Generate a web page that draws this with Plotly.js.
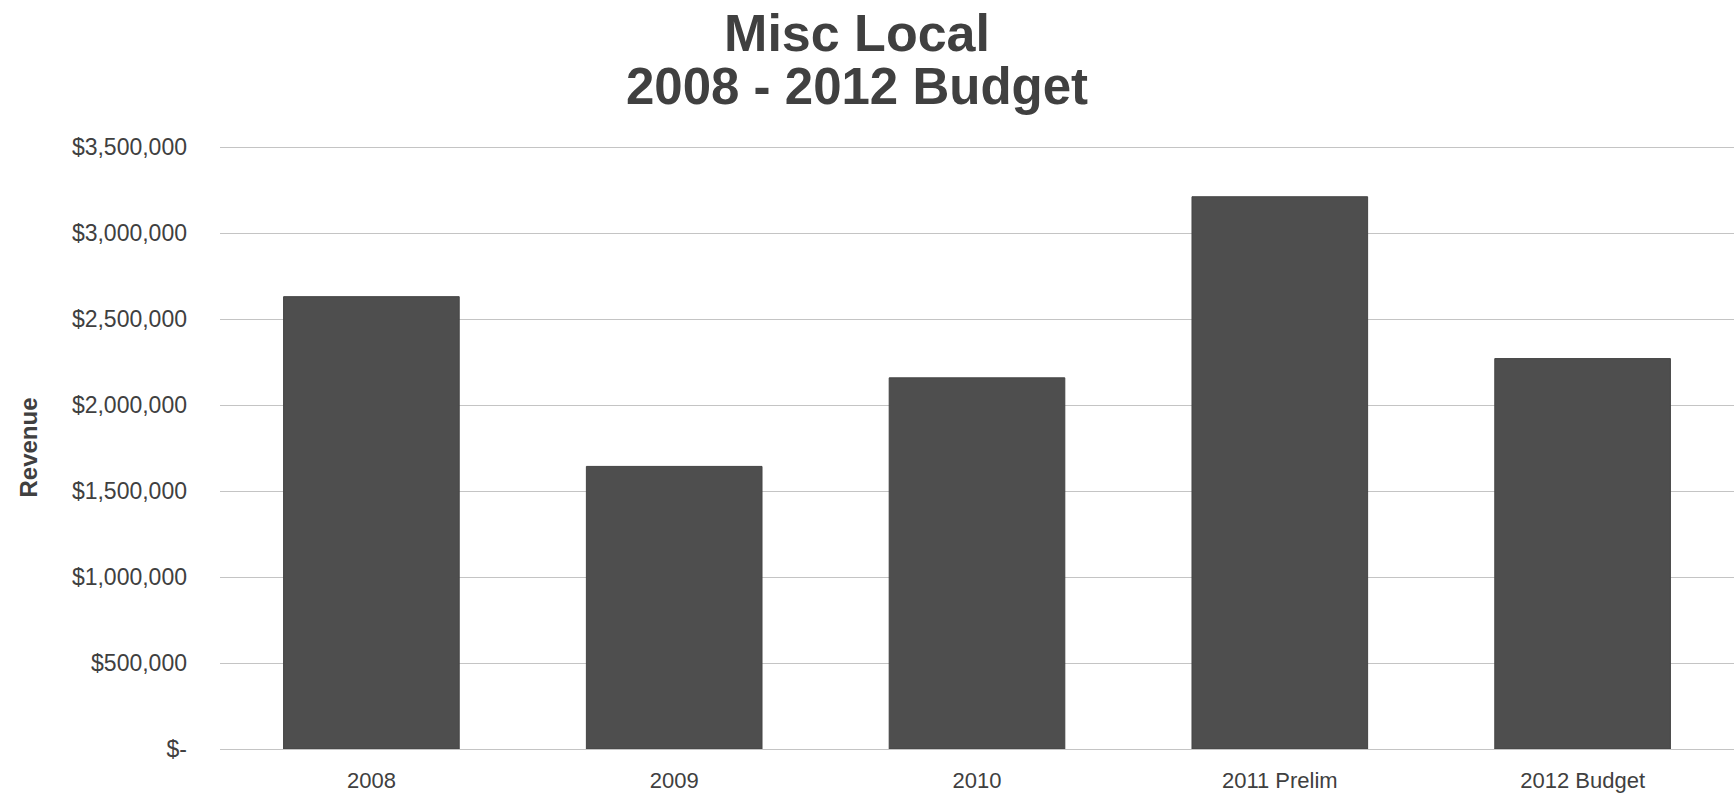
<!DOCTYPE html>
<html>
<head>
<meta charset="utf-8">
<script src="https://cdn.plot.ly/plotly-3.0.1.min.js"></script>
<style>
html,body{margin:0;padding:0;background:#fff;}
#chart{width:1734px;height:794px;}
</style>
</head>
<body>
<div id="chart"></div>
<script>
const categories = ["2008", "2009", "2010", "2011 Prelim", "2012 Budget"];
const revenue = [2630000, 1643000, 2158000, 3211000, 2270000];
const yTickVals = [0, 500000, 1000000, 1500000, 2000000, 2500000, 3000000, 3500000];
const yTickText = ["$-", "$500,000", "$1,000,000", "$1,500,000", "$2,000,000", "$2,500,000", "$3,000,000", "$3,500,000"];
const titleLine1 = "Misc Local";
const titleLine2 = "2008 - 2012 Budget";

const trace = {
  type: "bar",
  x: categories,
  y: revenue,
  marker: {color: "#4e4e4e", line: {color: "#444444", width: 1}},
  hoverinfo: "x+y"
};

const W = 1734, H = 794, T = 146, B = 45, L = 220;
const plotH = H - T - B;
const titleX = 857;

const layout = {
  width: W,
  height: H,
  paper_bgcolor: "#ffffff",
  plot_bgcolor: "#ffffff",
  margin: {l: L, r: 0, t: T, b: B},
  bargap: 0.42,
  showlegend: false,
  font: {family: "Liberation Sans, Arial, sans-serif", color: "#404040", size: 22},
  title: {
    text: "<b>" + titleLine1 + "</b>",
    font: {family: "Liberation Sans, Arial, sans-serif", size: 52, color: "#404040"},
    xref: "container", x: titleX / W, xanchor: "center",
    yref: "container", y: 1 - 33 / H, yanchor: "middle"
  },
  annotations: [{
    text: "<b>" + titleLine2 + "</b>",
    font: {family: "Liberation Sans, Arial, sans-serif", size: 51, color: "#404040"},
    xref: "paper", yref: "paper",
    x: (titleX - L) / (W - L), xanchor: "center",
    y: (H - B - 86) / plotH, yanchor: "middle",
    showarrow: false
  }],
  xaxis: {
    type: "category",
    showgrid: false,
    showline: true,
    linecolor: "#c4c4c4",
    linewidth: 1,
    ticks: "",
    ticklabelstandoff: 12,
    tickfont: {size: 22, color: "#404040"},
    zeroline: false
  },
  yaxis: {
    range: [0, 3506000],
    tickvals: yTickVals,
    ticktext: yTickText,
    showgrid: true,
    gridcolor: "#c4c4c4",
    gridwidth: 1,
    zeroline: false,
    showline: false,
    ticks: "",
    ticklabelstandoff: 32,
    tickfont: {size: 23, color: "#404040"},
    title: {
      text: "<b>Revenue</b>",
      font: {size: 24, color: "#404040"},
      standoff: 27
    }
  }
};

Plotly.newPlot("chart", [trace], layout, {displayModeBar: false, staticPlot: true});
</script>
</body>
</html>
